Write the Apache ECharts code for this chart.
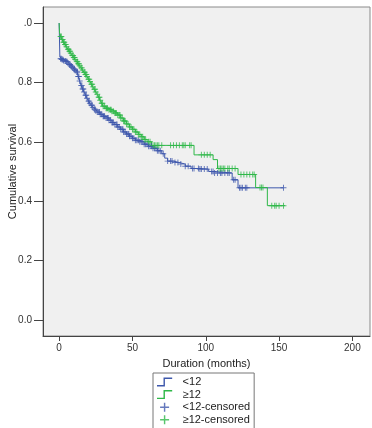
<!DOCTYPE html>
<html>
<head>
<meta charset="utf-8">
<script src="https://cdn.jsdelivr.net/npm/echarts@6/dist/echarts.min.js"></script>
<style>
  html, body { margin: 0; padding: 0; background: #fff; }
  #chart { width: 372px; height: 428px; }
</style>
</head>
<body>
<div id="chart"></div>
<script>
// survival curve steps: [months, cumulative survival]
const curveLt12 = [
  [0, 1.0], [0.5, 0.885], [1, 0.88], [2, 0.877], [3, 0.874], [4, 0.872], [5, 0.87],
  [6, 0.865], [7, 0.86], [8, 0.855], [9, 0.85], [10, 0.845], [11, 0.84], [12, 0.835],
  [13, 0.82], [14, 0.805], [15, 0.79], [16, 0.778], [17, 0.768], [18, 0.757], [19, 0.747],
  [20, 0.737], [21, 0.73], [22, 0.723], [23, 0.716], [24, 0.71], [25, 0.705], [26, 0.7],
  [28, 0.693], [30, 0.686], [32, 0.68], [34, 0.673], [36, 0.665], [38, 0.658], [40, 0.65],
  [42, 0.642], [44, 0.633], [46, 0.626], [48, 0.619], [50, 0.612], [52, 0.605], [55, 0.6],
  [58, 0.592], [61, 0.585], [64, 0.578], [67, 0.57], [70, 0.56], [72, 0.545], [74, 0.535],
  [78, 0.53], [82, 0.525], [86, 0.518], [90, 0.51], [96, 0.508], [102, 0.5], [106, 0.495],
  [118, 0.472], [122, 0.445], [153, 0.445]
]
const curveGe12 = [
  [0, 1.0], [0.3, 0.965], [1, 0.955], [2, 0.945], [3, 0.935], [4, 0.928], [5, 0.92],
  [6, 0.912], [7, 0.905], [8, 0.898], [9, 0.891], [10, 0.884], [11, 0.877], [12, 0.87],
  [13, 0.863], [14, 0.856], [15, 0.849], [16, 0.842], [17, 0.834], [18, 0.827], [19, 0.82],
  [20, 0.811], [21, 0.803], [22, 0.794], [23, 0.785], [24, 0.777], [25, 0.768], [26, 0.76],
  [27, 0.75], [28, 0.74], [29, 0.73], [30, 0.72], [32, 0.713], [34, 0.708], [36, 0.703],
  [38, 0.697], [40, 0.69], [42, 0.68], [44, 0.67], [46, 0.66], [48, 0.65], [50, 0.642],
  [52, 0.633], [54, 0.625], [56, 0.617], [58, 0.608], [60, 0.6], [63, 0.588], [92, 0.556],
  [105, 0.54], [108, 0.51], [122, 0.49], [134, 0.446], [142, 0.385], [154, 0.385]
]

// censoring times (months)
const censorLt12 = [
  1, 1.5, 2, 2.5, 3, 4, 4.5, 5, 5.5, 6, 7, 7.5, 8, 8.5, 9, 10, 10.5, 11, 12, 12.5, 13, 13.5,
  14, 15, 15.5, 16, 16.5, 17, 18, 18.5, 19, 20, 20.5, 21, 22, 22.5, 23, 24, 24.5, 25, 26,
  27, 27.5, 28, 29, 30, 30.5, 31, 32, 33, 33.5, 34, 35, 36, 36.5, 37, 38, 39, 39.5, 40, 41,
  42, 43, 43.5, 44, 45, 46, 47, 47.5, 48, 49, 50, 51, 52, 53, 54, 55, 56, 57, 58, 59, 60,
  61, 62, 63, 64, 65, 66, 67, 68, 69, 71, 74, 76, 77, 79, 81, 83, 86, 88, 91, 92, 95, 96,
  97, 99, 101, 104, 105, 106, 108, 110, 111, 113, 115, 116, 119, 120, 123, 124, 125, 127,
  128, 153
]
const censorGe12 = [
  1, 1.5, 2, 2.5, 3, 3.5, 4, 4.5, 5, 6, 6.5, 7, 7.5, 8, 9, 9.5, 10, 10.5, 11, 12, 12.5, 13,
  13.5, 14, 15, 15.5, 16, 17, 17.5, 18, 18.5, 19, 20, 20.5, 21, 22, 22.5, 23, 24, 24.5, 25,
  26, 27, 27.5, 28, 29, 29.5, 30, 31, 32, 32.5, 33, 34, 35, 35.5, 36, 37, 38, 38.5, 39, 40,
  41, 41.5, 42, 43, 44, 44.5, 45, 46, 47, 48, 49, 50, 51, 52, 53, 54, 55, 56, 57, 58, 59,
  61, 62, 64, 65, 66, 67, 68, 70, 76, 78, 80, 82, 84, 85, 86, 89, 90, 97, 99, 101, 103, 109,
  110, 111, 112, 113, 115, 116, 118, 120, 124, 126, 128, 130, 132, 133, 137, 138, 139, 145,
  147, 148, 150, 153
]

const xTicks = [0, 50, 100, 150, 200]
const yTicks = [0, 0.2, 0.4, 0.6, 0.8, 1.0]
const yTickLabels = ['0.0', '0.2', '0.4', '0.6', '0.8', '.0']
const seriesNames = ['<12', '≥12', '<12-censored', '≥12-censored']

const BLUE = '#3e58ac'
const GREEN = '#2eb848'
const FONT = '"Liberation Sans", Arial, sans-serif'

// survival value at time t
const survivalAt = (curve, t) => {
  let v = curve[0][1]
  for (const [x, y] of curve) {
    if (x <= t) v = y
    else break
  }
  return v
}

const plus = 'path://M0,4.2H10V5.8H0Z M4.2,0H5.8V10H4.2Z'
const stepIcon = 'path://M0,7H6V0H14V1.3H7.3V8.3H0Z'

const chart = echarts.init(document.getElementById('chart'))

chart.setOption({
  animation: false,
  backgroundColor: '#fff',
  textStyle: { fontFamily: FONT },
  grid: {
    left: 43, top: 7, right: 2, bottom: 92,
    outerBoundsMode: 'none',
    containLabel: false,
    show: true,
    backgroundColor: '#f0f0f0',
    borderColor: '#8a8a8a',
    borderWidth: 1
  },
  legend: {
    orient: 'vertical',
    left: 153,
    top: 373,
    height: 120,
    padding: [3, 4, 6, 4],
    borderColor: '#777',
    borderWidth: 1,
    itemGap: 0.6,
    itemWidth: 16,
    itemHeight: 9,
    textStyle: { fontSize: 11, lineHeight: 12, color: '#222', fontFamily: FONT, padding: [0, 0, 0, 5] },
    data: [
      { name: seriesNames[0], icon: stepIcon, itemStyle: { color: BLUE } },
      { name: seriesNames[1], icon: stepIcon, itemStyle: { color: GREEN } },
      { name: seriesNames[2], icon: plus, itemStyle: { color: BLUE } },
      { name: seriesNames[3], icon: plus, itemStyle: { color: GREEN } }
    ]
  },
  xAxis: {
    type: 'value',
    min: -11,
    max: 212,
    name: 'Duration (months)',
    nameLocation: 'middle',
    nameGap: 22,
    nameMoveOverlap: false,
    nameTextStyle: { fontSize: 11, color: '#222' },
    axisLine: { show: true, onZero: false, lineStyle: { color: '#444' } },
    axisTick: { show: true, length: 5, customValues: xTicks, lineStyle: { color: '#444' } },
    axisLabel: { customValues: xTicks, fontSize: 10, color: '#333', margin: 7 },
    splitLine: { show: false }
  },
  yAxis: {
    type: 'value',
    min: -0.054,
    max: 1.054,
    name: 'Cumulative survival',
    nameLocation: 'middle',
    nameGap: 25,
    nameMoveOverlap: false,
    nameTextStyle: { fontSize: 11, color: '#222' },
    axisLine: { show: true, onZero: false, lineStyle: { color: '#444' } },
    axisTick: { show: true, length: 9, customValues: yTicks, lineStyle: { color: '#444' } },
    axisLabel: {
      customValues: yTicks,
      fontSize: 10,
      color: '#333',
      margin: 11,
      formatter: (v) => yTickLabels[yTicks.findIndex(t => Math.abs(t - v) < 1e-6)]
    },
    splitLine: { show: false }
  },
  series: [
    {
      name: seriesNames[0],
      type: 'line',
      step: 'end',
      data: curveLt12,
      showSymbol: false,
      lineStyle: { color: BLUE, width: 1 },
      itemStyle: { color: BLUE },
      z: 2
    },
    {
      name: seriesNames[1],
      type: 'line',
      step: 'end',
      data: curveGe12,
      showSymbol: false,
      lineStyle: { color: GREEN, width: 1 },
      itemStyle: { color: GREEN },
      z: 2
    },
    {
      name: seriesNames[2],
      type: 'scatter',
      symbol: plus,
      symbolSize: 6,
      data: censorLt12.map(t => [t, survivalAt(curveLt12, t)]),
      itemStyle: { color: BLUE },
      z: 3
    },
    {
      name: seriesNames[3],
      type: 'scatter',
      symbol: plus,
      symbolSize: 6,
      data: censorGe12.map(t => [t, survivalAt(curveGe12, t)]),
      itemStyle: { color: GREEN },
      z: 3
    }
  ]
})
</script>
</body>
</html>
